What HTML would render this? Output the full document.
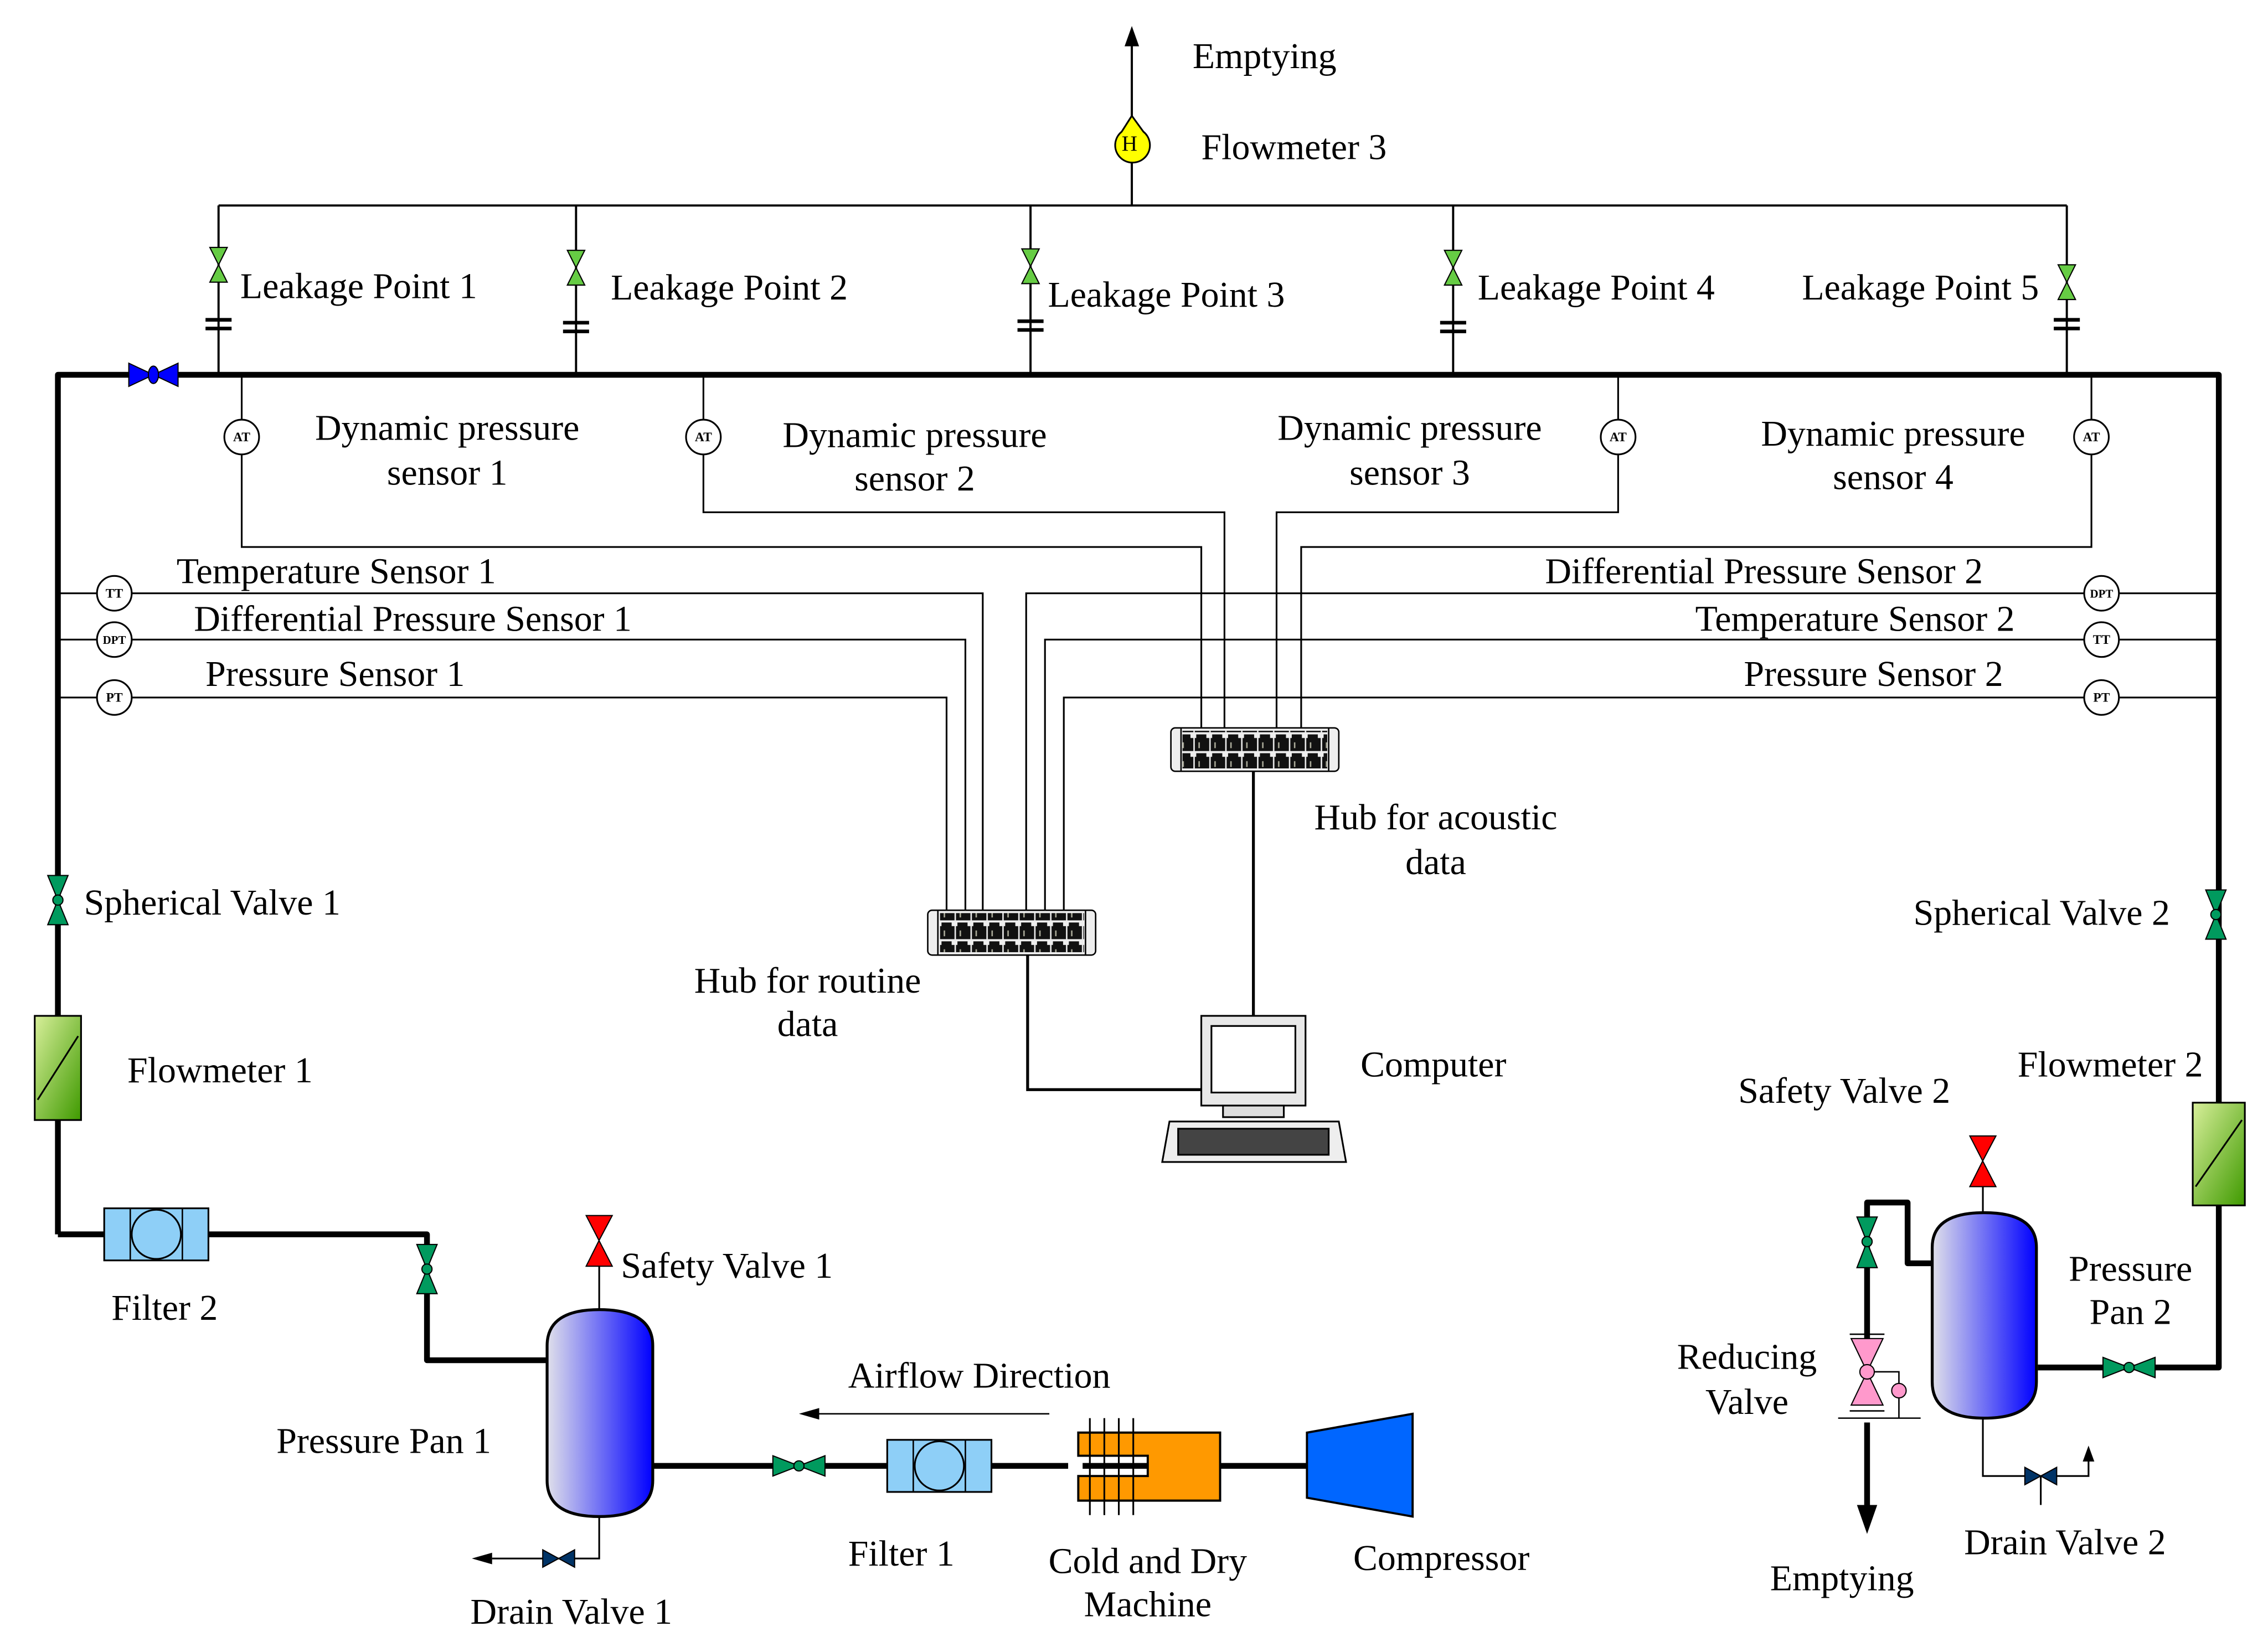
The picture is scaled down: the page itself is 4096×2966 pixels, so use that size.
<!DOCTYPE html>
<html><head><meta charset="utf-8"><style>
html,body{margin:0;padding:0;background:#fff}
svg{display:block}
text{font-family:"Liberation Serif",serif;font-size:25.2px;fill:#000}
</style></head><body>
<svg width="4096" height="2966" viewBox="0 0 1567 1134.7" preserveAspectRatio="none" xmlns="http://www.w3.org/2000/svg">
<defs>
<linearGradient id="pan" x1="0" x2="1" y1="0" y2="0"><stop offset="0" stop-color="#e0e0ea"/><stop offset="1" stop-color="#0000ff"/></linearGradient>
<linearGradient id="fm" x1="0" x2="1" y1="0" y2="1"><stop offset="0" stop-color="#d8ef9a"/><stop offset="1" stop-color="#3f9a00"/></linearGradient>
<pattern id="ports" x="0" y="0" width="11" height="13" patternUnits="userSpaceOnUse"><rect x="0.5" y="3" width="10" height="9" fill="#111"/><rect x="1.5" y="0.5" width="7" height="3" fill="#111"/><rect x="3" y="6" width="1" height="4" fill="#aa9"/></pattern>
</defs>

<g fill="none" stroke="#000" stroke-width="4" stroke-linejoin="round">
<polyline points="40,853 40,259 1533,259 1533,945 1408,945"/>
<polyline points="40,853 295,853 295,940 378,940"/>
<line x1="451" y1="1013" x2="903" y2="1013"/>
<polyline points="1335,873 1318,873 1318,831 1290,831 1290,925"/>
<line x1="1290" y1="983" x2="1290" y2="1040"/>
</g>
<polygon points="1283,1040 1297,1040 1290,1060"/>

<g fill="none" stroke="#000" stroke-width="1.5">
<line x1="782" y1="30" x2="782" y2="142"/>
<line x1="151" y1="142" x2="1428" y2="142"/>
<line x1="151" y1="142" x2="151" y2="259"/>
<line x1="398" y1="142" x2="398" y2="259"/>
<line x1="712" y1="142" x2="712" y2="259"/>
<line x1="1004" y1="142" x2="1004" y2="259"/>
<line x1="1428" y1="142" x2="1428" y2="259"/>
</g>
<polygon points="777,32 787,32 782,18"/>
<path d="M782,80 L775,91 A12,12 0 1 0 790,91 Z" fill="#ff0" stroke="#000" stroke-width="1.2"/>
<text x="775" y="104" style="font-size:15px">H</text>

<g fill="#66cc44" stroke="#000" stroke-width="0.8">
<polygon points="145,171 157,171 151,183 145,195 157,195"/>
<polygon points="392,173 404,173 398,185 392,197 404,197"/>
<polygon points="706,172 718,172 712,184 706,196 718,196"/>
<polygon points="998,173 1010,173 1004,185 998,197 1010,197"/>
<polygon points="1422,183 1434,183 1428,195 1422,207 1434,207"/>
</g>
<g stroke="#000" stroke-width="2.5">
<line x1="142" y1="221" x2="160" y2="221"/><line x1="142" y1="227" x2="160" y2="227"/>
<line x1="389" y1="223" x2="407" y2="223"/><line x1="389" y1="229" x2="407" y2="229"/>
<line x1="703" y1="222" x2="721" y2="222"/><line x1="703" y1="228" x2="721" y2="228"/>
<line x1="995" y1="223" x2="1013" y2="223"/><line x1="995" y1="229" x2="1013" y2="229"/>
<line x1="1419" y1="221" x2="1437" y2="221"/><line x1="1419" y1="227" x2="1437" y2="227"/>
</g>

<polygon points="89,251 89,267 106,259 123,251 123,267 106,259" fill="#0000ff" stroke="#000" stroke-width="0.8"/>
<ellipse cx="106" cy="259" rx="3.5" ry="6" fill="#0000ff" stroke="#000" stroke-width="0.8"/>

<g fill="none" stroke="#000" stroke-width="1.2">
<polyline points="167,259 167,378 830,378 830,503"/>
<polyline points="486,259 486,354 846,354 846,503"/>
<polyline points="1118,259 1118,354 882,354 882,503"/>
<polyline points="1445,259 1445,378 899,378 899,503"/>
<polyline points="40,410 679,410 679,629"/>
<polyline points="40,442 667,442 667,629"/>
<polyline points="40,482 654,482 654,629"/>
<polyline points="1533,410 709,410 709,629"/>
<polyline points="1533,442 722,442 722,629"/>
<polyline points="1533,482 735,482 735,629"/>
</g>
<g fill="none" stroke="#000" stroke-width="2">
<line x1="866" y1="533" x2="866" y2="702"/>
<polyline points="710,660 710,753 830,753"/>
</g>

<g fill="#fff" stroke="#000" stroke-width="1.2">
<circle cx="167" cy="302" r="12"/><circle cx="486" cy="302" r="12"/><circle cx="1118" cy="302" r="12"/><circle cx="1445" cy="302" r="12"/>
<circle cx="79" cy="410" r="12"/><circle cx="79" cy="442" r="12"/><circle cx="79" cy="482" r="12"/>
<circle cx="1452" cy="410" r="12"/><circle cx="1452" cy="442" r="12"/><circle cx="1452" cy="482" r="12"/>
</g>
<g text-anchor="middle" font-weight="bold">
<text x="167" y="305" style="font-size:9px">AT</text><text x="486" y="305" style="font-size:9px">AT</text><text x="1118" y="305" style="font-size:9px">AT</text><text x="1445" y="305" style="font-size:9px">AT</text>
<text x="79" y="413" style="font-size:9px">TT</text><text x="79" y="445" style="font-size:8px">DPT</text><text x="79" y="485" style="font-size:9px">PT</text>
<text x="1452" y="413" style="font-size:8px">DPT</text><text x="1452" y="445" style="font-size:9px">TT</text><text x="1452" y="485" style="font-size:9px">PT</text>
</g>

<g>
<rect x="809" y="503" width="116" height="30" rx="3" fill="#eee" stroke="#000" stroke-width="1"/>
<rect x="817" y="505" width="100" height="26" fill="url(#ports)"/>
<line x1="816" y1="503" x2="816" y2="533" stroke="#000"/><line x1="918" y1="503" x2="918" y2="533" stroke="#000"/>
<rect x="641" y="629" width="116" height="31" rx="3" fill="#eee" stroke="#000" stroke-width="1"/>
<rect x="649" y="631" width="100" height="27" fill="url(#ports)"/>
<line x1="648" y1="629" x2="648" y2="660" stroke="#000"/><line x1="750" y1="629" x2="750" y2="660" stroke="#000"/>
</g>

<g stroke="#000" stroke-width="1.2">
<rect x="830" y="702" width="72" height="62" fill="#e8e8e8"/>
<rect x="837" y="709" width="58" height="46" fill="#fff"/>
<rect x="845" y="764" width="42" height="8" fill="#ddd"/>
<polygon points="808,775 925,775 930,803 803,803" fill="#eee"/>
<rect x="814" y="780" width="104" height="18" fill="#444"/>
</g>

<polygon points="33,605 47,605 40,622 33,639 47,639" fill="#009a5e" stroke="#000" stroke-width="0.8"/>
<circle cx="40" cy="622" r="3.5" fill="#009a5e" stroke="#000" stroke-width="0.8"/>
<rect x="24" y="702" width="32" height="72" fill="url(#fm)" stroke="#000" stroke-width="1.2"/>
<line x1="26" y1="760" x2="54" y2="716" stroke="#000" stroke-width="1.2"/>
<rect x="72" y="835" width="72" height="36" fill="#8ecff7" stroke="#000" stroke-width="1.2"/>
<line x1="90" y1="835" x2="90" y2="871" stroke="#000"/><line x1="126" y1="835" x2="126" y2="871" stroke="#000"/>
<circle cx="108" cy="853" r="17" fill="#8ecff7" stroke="#000" stroke-width="1.2"/>
<polygon points="288,860 302,860 295,877 288,894 302,894" fill="#009a5e" stroke="#000" stroke-width="0.8"/>
<circle cx="295" cy="877" r="3.5" fill="#009a5e" stroke="#000" stroke-width="0.8"/>

<path d="M378,930 Q378,905 414,905 Q451,905 451,930 L451,1023 Q451,1048 414,1048 Q378,1048 378,1023 Z" fill="url(#pan)" stroke="#000" stroke-width="2"/>
<line x1="414" y1="875" x2="414" y2="905" stroke="#000" stroke-width="1.2"/>
<polygon points="405,840 423,840 414,857 405,875 423,875" fill="#f00" stroke="#000" stroke-width="0.8"/>
<polyline points="414,1048 414,1077 340,1077" fill="none" stroke="#000" stroke-width="1.2"/>
<polygon points="340,1073 340,1081 326,1077"/>
<polygon points="375,1071 375,1083 386,1077 397,1071 397,1083 386,1077" fill="#003366" stroke="#000" stroke-width="0.8"/>

<polygon points="534,1006 534,1020 552,1013 570,1006 570,1020 552,1013" fill="#009a5e" stroke="#000" stroke-width="0.8"/>
<circle cx="552" cy="1013" r="3.5" fill="#009a5e" stroke="#000" stroke-width="0.8"/>
<rect x="613" y="995" width="72" height="36" fill="#8ecff7" stroke="#000" stroke-width="1.2"/>
<line x1="631" y1="995" x2="631" y2="1031" stroke="#000"/><line x1="667" y1="995" x2="667" y2="1031" stroke="#000"/>
<circle cx="649" cy="1013" r="17" fill="#8ecff7" stroke="#000" stroke-width="1.2"/>
<path d="M843,990 L745,990 L745,1006 L793,1006 L793,1020 L745,1020 L745,1037 L843,1037 Z" fill="#ff9900" stroke="#000" stroke-width="1.5"/>
<rect x="738" y="1007" width="10" height="12" fill="#fff"/>
<g stroke="#000" stroke-width="1.2"><line x1="753" y1="980" x2="753" y2="1047"/><line x1="763" y1="980" x2="763" y2="1047"/><line x1="773" y1="980" x2="773" y2="1047"/><line x1="783" y1="980" x2="783" y2="1047"/></g>
<polygon points="903,990 976,977 976,1048 903,1035" fill="#0066ff" stroke="#000" stroke-width="1.5"/>
<line x1="566" y1="977" x2="725" y2="977" stroke="#000" stroke-width="1"/>
<polygon points="566,973 566,981 552,977"/>

<polygon points="1524,615 1538,615 1531,632 1524,649 1538,649" fill="#009a5e" stroke="#000" stroke-width="0.8"/>
<circle cx="1531" cy="632" r="3.5" fill="#009a5e" stroke="#000" stroke-width="0.8"/>
<rect x="1515" y="762" width="36" height="71" fill="url(#fm)" stroke="#000" stroke-width="1.2"/>
<line x1="1517" y1="820" x2="1549" y2="774" stroke="#000" stroke-width="1.2"/>
<polygon points="1453,938 1453,952 1471,945 1489,938 1489,952 1471,945" fill="#009a5e" stroke="#000" stroke-width="0.8"/>
<circle cx="1471" cy="945" r="3.5" fill="#009a5e" stroke="#000" stroke-width="0.8"/>
<path d="M1335,862 Q1335,838 1371,838 Q1407,838 1407,862 L1407,955 Q1407,980 1371,980 Q1335,980 1335,955 Z" fill="url(#pan)" stroke="#000" stroke-width="2"/>
<line x1="1370" y1="820" x2="1370" y2="838" stroke="#000" stroke-width="1.2"/>
<polygon points="1361,785 1379,785 1370,802 1361,820 1379,820" fill="#f00" stroke="#000" stroke-width="0.8"/>
<polygon points="1283,841 1297,841 1290,858 1283,876 1297,876" fill="#009a5e" stroke="#000" stroke-width="0.8"/>
<circle cx="1290" cy="858" r="3.5" fill="#009a5e" stroke="#000" stroke-width="0.8"/>
<line x1="1278" y1="922" x2="1302" y2="922" stroke="#000" stroke-width="1"/>
<line x1="1278" y1="975" x2="1302" y2="975" stroke="#000" stroke-width="1"/>
<polygon points="1279,925 1301,925 1290,948 1279,971 1301,971" fill="#ff99cc" stroke="#000" stroke-width="0.8"/>
<polyline points="1295,948 1312,948 1312,980" fill="none" stroke="#000" stroke-width="1"/>
<circle cx="1290" cy="948" r="5" fill="#ff99cc" stroke="#000" stroke-width="0.8"/>
<circle cx="1312" cy="961" r="5" fill="#ff99cc" stroke="#000" stroke-width="0.8"/>
<line x1="1270" y1="980" x2="1327" y2="980" stroke="#000" stroke-width="1"/>
<polyline points="1370,980 1370,1020 1443,1020 1443,1010" fill="none" stroke="#000" stroke-width="1.2"/>
<polygon points="1439,1010 1447,1010 1443,999"/>
<polygon points="1399,1014 1399,1026 1410,1020 1421,1014 1421,1026 1410,1020" fill="#003366" stroke="#000" stroke-width="0.8"/>
<line x1="1410" y1="1020" x2="1410" y2="1040" stroke="#000" stroke-width="1.2"/>

<text x="824" y="47">Emptying</text>
<text x="830" y="110">Flowmeter 3</text>
<text x="166" y="206">Leakage Point 1</text>
<text x="422" y="207">Leakage Point 2</text>
<text x="724" y="212">Leakage Point 3</text>
<text x="1021" y="207">Leakage Point 4</text>
<text x="1245" y="207">Leakage Point 5</text>
<g text-anchor="middle">
<text x="309" y="304">Dynamic pressure</text><text x="309" y="335">sensor 1</text>
<text x="632" y="309">Dynamic pressure</text><text x="632" y="339">sensor 2</text>
<text x="974" y="304">Dynamic pressure</text><text x="974" y="335">sensor 3</text>
<text x="1308" y="308">Dynamic pressure</text><text x="1308" y="338">sensor 4</text>
<text x="992" y="573">Hub for acoustic</text><text x="992" y="604">data</text>
<text x="558" y="686">Hub for routine</text><text x="558" y="716">data</text>
<text x="793" y="1087">Cold and Dry</text><text x="793" y="1117">Machine</text>
<text x="1472" y="885">Pressure</text><text x="1472" y="915">Pan 2</text>
<text x="1207" y="946">Reducing</text><text x="1207" y="977">Valve</text>
</g>
<text x="122" y="403">Temperature Sensor 1</text>
<text x="134" y="436">Differential Pressure Sensor 1</text>
<text x="142" y="474">Pressure Sensor 1</text>
<g text-anchor="end">
<text x="1370" y="403">Differential Pressure Sensor 2</text>
<text x="1392" y="436">Temperature Sensor 2</text>
<text x="1384" y="474">Pressure Sensor 2</text>
</g>
<text x="940" y="744">Computer</text>
<text x="58" y="632">Spherical Valve 1</text>
<text x="88" y="748">Flowmeter 1</text>
<text x="77" y="912">Filter 2</text>
<text x="429" y="883">Safety Valve 1</text>
<text x="191" y="1004">Pressure Pan 1</text>
<text x="325" y="1122">Drain Valve 1</text>
<text x="586" y="959">Airflow Direction</text>
<text x="586" y="1082">Filter 1</text>
<text x="935" y="1085">Compressor</text>
<text x="1322" y="639">Spherical Valve 2</text>
<text x="1394" y="744">Flowmeter 2</text>
<text x="1201" y="762">Safety Valve 2</text>
<text x="1223" y="1099">Emptying</text>
<text x="1357" y="1074">Drain Valve 2</text>
</svg>
</body></html>
